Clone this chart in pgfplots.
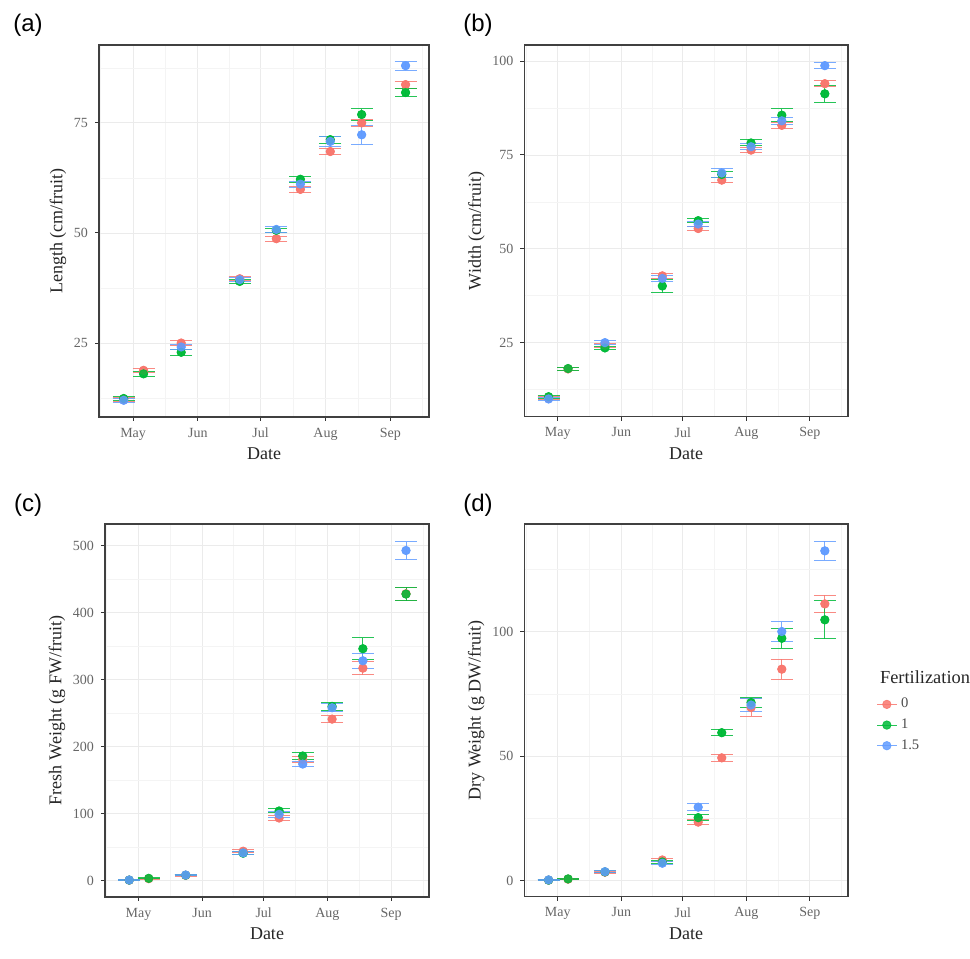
\documentclass[border=0pt]{standalone}
\usepackage{fontspec}
\setmainfont{Liberation Serif}
\newfontfamily\panelfont{Liberation Sans}
\usepackage{pgfplots}
\pgfplotsset{compat=1.18}
\usepackage{pgfplotstable}

\definecolor{cR}{HTML}{F8766D}
\definecolor{cG}{HTML}{00BA38}
\definecolor{cB}{HTML}{619CFF}
\definecolor{gridmaj}{HTML}{EBEBEB}
\definecolor{gridmin}{HTML}{F4F4F4}

% x = days after 1 May; r/g/b = fertilization 0 / 1 / 1.5, e = error
\pgfplotstableread{
x      r     re    g     ge    b     be
-4.5   12.2  0.4   12.4  0.5   12.0  0.4
5      18.8  0.5   18.0  0.5   nan   nan
23     25.0  0.6   22.9  0.7   24.1  0.6
51     39.6  0.4   39.0  0.5   39.4  0.4
68.5   48.7  0.6   50.6  0.5   50.8  0.7
80     59.9  0.7   62.2  0.7   61.1  0.7
94.3   68.5  0.6   71.2  0.8   70.8  1.2
109.3  75.0  0.8   76.9  1.3   72.3  2.1
130.3  83.7  0.8   81.9  1.0   88.0  1.0
}\tabA
\pgfplotstableread{
x      r     re    g     ge    b     be
-4.5   10.3  0.4   10.6  0.4   10.0  0.5
5      18.0  0.4   18.1  0.4   nan   nan
23     24.3  0.5   23.6  0.5   25.0  0.6
51     42.8  0.6   40.1  1.8   42.1  0.7
68.5   55.4  0.6   57.5  0.6   56.6  0.7
80     68.3  0.7   69.8  0.8   70.2  1.2
94.3   76.3  0.7   78.2  0.8   77.2  0.8
109.3  82.9  0.8   85.6  1.7   84.1  1.0
130.3  94.0  0.8   91.3  2.2   98.8  0.8
}\tabB
\pgfplotstableread{
x      r      re    g      ge    b      be
-4.5   0.8    0.3   0.9    0.3   1.0    0.4
5      3.0    0.5   3.5    0.6   nan    nan
23     8.0    1.0   8.2    1.0   8.5    1.2
51     44.0   2.0   41.0   2.0   41.5   2.0
68.5   93.5   4.0   104.0  3.0   99.0   4.0
80     181.0  4.0   186.0  5.0   174.0  4.0
94.3   241.0  5.0   260.0  6.0   258.0  6.0
109.3  317.0  10.0  346.0  16.0  328.0  11.0
130.3  428.0  10.0  427.5  10.0  492.5  13.0
}\tabC
\pgfplotstableread{
x      r      re    g      ge    b      be
-4.5   0.2    0.1   0.2    0.1   0.3    0.15
5      0.6    0.2   0.7    0.2   nan    nan
23     3.4    0.4   3.5    0.4   3.6    0.5
51     8.3    0.6   7.5    0.5   7.0    0.6
68.5   23.5   1.0   25.3   1.2   29.5   1.5
80     49.3   1.5   59.4   1.2   nan    nan
94.3   69.5   3.5   71.5   2.0   70.5   2.5
109.3  84.9   4.0   97.3   4.0   100.0  4.0
130.3  111.1  3.4   104.7  7.6   132.4  3.8
}\tabD

\pgfplotsset{
  panel/.style={
    scale only axis,
    xmin=-16.3, xmax=141.5,
    xtick={0,31,61,92,123},
    xticklabels={May,Jun,Jul,Aug,Sep},
    minor xtick={-15.5,15.5,46,76.5,107.5,138.5},
    grid=both,
    major grid style={draw=gridmaj, line width=0.45pt},
    minor grid style={draw=gridmin, line width=0.3pt},
    tick pos=left, tick align=outside,
    major tick length=2pt, minor tick length=0pt,
    major tick style={draw=black!80, line width=0.5pt},
    axis line style={draw=black!75, line width=0.8pt},
    tick label style={font=\fontsize{7}{8}\selectfont, text=black!60},
    /pgf/number format/assume math mode=true,
    label style={font=\fontsize{9}{10}\selectfont, text=black!85},
    xlabel={Date},
    xlabel style={yshift=3pt},
    ylabel style={yshift=-3pt},
    unbounded coords=discard,
  },
  ebar/.style={color=#1, mark=none, only marks, forget plot, opacity=0.85,
    error bars/.cd, y dir=both, y explicit,
    error bar style={color=#1, line width=0.5pt},
    error mark options={color=#1, rotate=90, mark size=5.5pt, line width=0.5pt}},
  pt/.style={color=#1, only marks, mark=*, mark size=2.1pt, forget plot,
    mark options={fill=#1, draw=none, opacity=0.85}},
}

\newcommand{\drawgroups}[1]{%
  \addplot[ebar=cR] table[x=x, y=r, y error=re]{#1};
  \addplot[ebar=cG] table[x=x, y=g, y error=ge]{#1};
  \addplot[ebar=cB] table[x=x, y=b, y error=be]{#1};
  \addplot[pt=cR] table[x=x, y=r]{#1};
  \addplot[pt=cG] table[x=x, y=g]{#1};
  \addplot[pt=cB] table[x=x, y=b]{#1};
}

\begin{document}
\begin{tikzpicture}
\path[use as bounding box] (0,0) rectangle (485pt,479.5pt);

% (a)
\begin{axis}[panel, at={(49.5pt,271pt)}, anchor=south west,
  width=165pt, height=186pt,
  ymin=8.2, ymax=92.7,
  ytick={25,50,75}, minor ytick={12.5,37.5,62.5,87.5},
  ylabel={Length (cm/fruit)}]
\drawgroups{\tabA}
\end{axis}

% (b)
\begin{axis}[panel, at={(262.2pt,271.2pt)}, anchor=south west,
  width=161.7pt, height=185.8pt,
  ymin=5.3, ymax=104.3,
  ytick={25,50,75,100}, minor ytick={12.5,37.5,62.5,87.5},
  ylabel={Width (cm/fruit)}]
\drawgroups{\tabB}
\end{axis}

% (c)
\begin{axis}[panel, at={(52.5pt,31pt)}, anchor=south west,
  width=162pt, height=186.5pt,
  ymin=-24.3, ymax=532,
  ytick={0,100,200,300,400,500}, minor ytick={50,150,250,350,450},
  ylabel={Fresh Weight (g FW/fruit)}]
\drawgroups{\tabC}
\end{axis}

% (d)
\begin{axis}[panel, at={(262.2pt,31.2pt)}, anchor=south west,
  width=161.7pt, height=186.2pt,
  ymin=-6.4, ymax=143.1,
  ytick={0,50,100}, minor ytick={25,75,125},
  ylabel={Dry Weight (g DW/fruit)},
  legend style={at={(1.088,0.545)}, anchor=north west, draw=none, fill=none,
    font=\fontsize{7.3}{8}\selectfont, text=black!70, row sep=0pt,
    inner sep=0pt, cells={anchor=west}},
  legend cell align=left]
\drawgroups{\tabD}
\addlegendimage{legend image code/.code={%
  \draw[cR, opacity=0.85, line width=0.5pt] (0cm,0cm) -- (0.34cm,0cm);
  \fill[cR, opacity=0.85] (0.17cm,0cm) circle (2.1pt);}}
\addlegendentry{0}
\addlegendimage{legend image code/.code={%
  \draw[cG, opacity=0.85, line width=0.5pt] (0cm,0cm) -- (0.34cm,0cm);
  \fill[cG, opacity=0.85] (0.17cm,0cm) circle (2.1pt);}}
\addlegendentry{1}
\addlegendimage{legend image code/.code={%
  \draw[cB, opacity=0.85, line width=0.5pt] (0cm,0cm) -- (0.34cm,0cm);
  \fill[cB, opacity=0.85] (0.17cm,0cm) circle (2.1pt);}}
\addlegendentry{1.5}
\end{axis}

\node[anchor=west, font=\fontsize{9.2}{10}\selectfont, text=black!85] at (436.5pt,141pt) {Fertilization};

\node[font=\panelfont\fontsize{12}{14}\selectfont] at (14pt,467pt) {(a)};
\node[font=\panelfont\fontsize{12}{14}\selectfont] at (239pt,467pt) {(b)};
\node[font=\panelfont\fontsize{12}{14}\selectfont] at (14pt,227pt) {(c)};
\node[font=\panelfont\fontsize{12}{14}\selectfont] at (239pt,227pt) {(d)};
\end{tikzpicture}
\end{document}
